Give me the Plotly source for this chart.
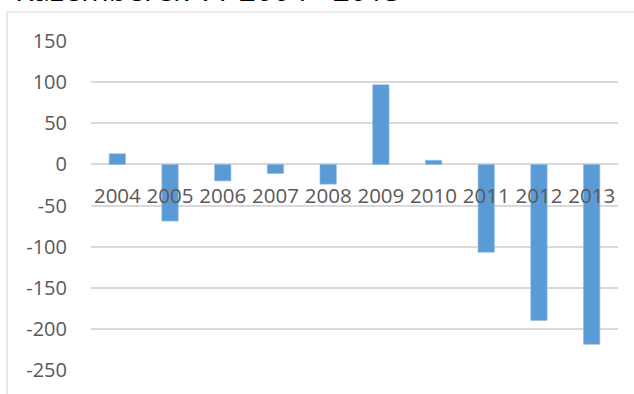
import plotly.graph_objects as go

years = ["2004", "2005", "2006", "2007", "2008", "2009", "2010", "2011", "2012", "2013"]
values = [13, -69, -20, -11, -24, 97, 5, -107, -190, -219]
y_ticks = [150, 100, 50, 0, -50, -100, -150, -200, -250]
title_text = "Kazemberek VT 2004 - 2013"

W, H = 634, 394
ML, MR, MT, MB = 91, 16, 41, 24
PW, PH = W - ML - MR, H - MT - MB
ymin, ymax = -250.3, 150.3

def px_x(p):
    return (p - ML) / PW

def px_y(p):
    return (H - MB - p) / PH

fig = go.Figure(go.Bar(
    x=years, y=values,
    marker=dict(color="#5B9BD5", line=dict(color="#8DB8E2", width=0.6)),
))

grid = "#d9d9d9"
fig.update_layout(
    width=W, height=H,
    margin=dict(l=ML, r=MR, t=MT, b=MB),
    paper_bgcolor="white", plot_bgcolor="white",
    showlegend=False,
    bargap=0.69,
    font=dict(family="Open Sans", color="#595959"),
    xaxis=dict(
        type="category",
        anchor="free",
        position=(0 - ymin) / (ymax - ymin),
        showgrid=False, showline=False, zeroline=False,
        ticks="outside", ticklen=13, tickcolor="rgba(0,0,0,0)",
        tickfont=dict(size=20.5, color="#595959"),
    ),
    yaxis=dict(
        range=[ymin, ymax],
        tickvals=y_ticks,
        ticktext=[str(v) for v in y_ticks],
        showgrid=True, gridcolor=grid, gridwidth=1.5,
        zeroline=True, zerolinecolor=grid, zerolinewidth=1.5,
        showline=False,
        ticks="outside", ticklen=19, tickcolor="rgba(0,0,0,0)",
        tickfont=dict(size=20, color="#595959"),
    ),
    shapes=[dict(
        type="rect", xref="paper", yref="paper",
        x0=px_x(7), x1=px_x(W + 20), y0=px_y(H + 20), y1=px_y(12),
        line=dict(color=grid, width=1.2), fillcolor="rgba(0,0,0,0)", layer="below",
    )],
    annotations=[dict(
        text=title_text, xref="paper", yref="paper",
        x=px_x(13), y=px_y(-11), xanchor="left", yanchor="middle",
        showarrow=False, font=dict(family="Open Sans", size=30, color="black"),
    )],
)

fig.write_html("out.html", config={"displayModeBar": False})

# remove the browser's default page margin so the figure sits at the window's corner
with open("out.html", "r", encoding="utf-8") as f:
    html = f.read()
html = html.replace("<head>", "<head><style>html,body{margin:0;padding:0;overflow:hidden;}</style>", 1)
with open("out.html", "w", encoding="utf-8") as f:
    f.write(html)
